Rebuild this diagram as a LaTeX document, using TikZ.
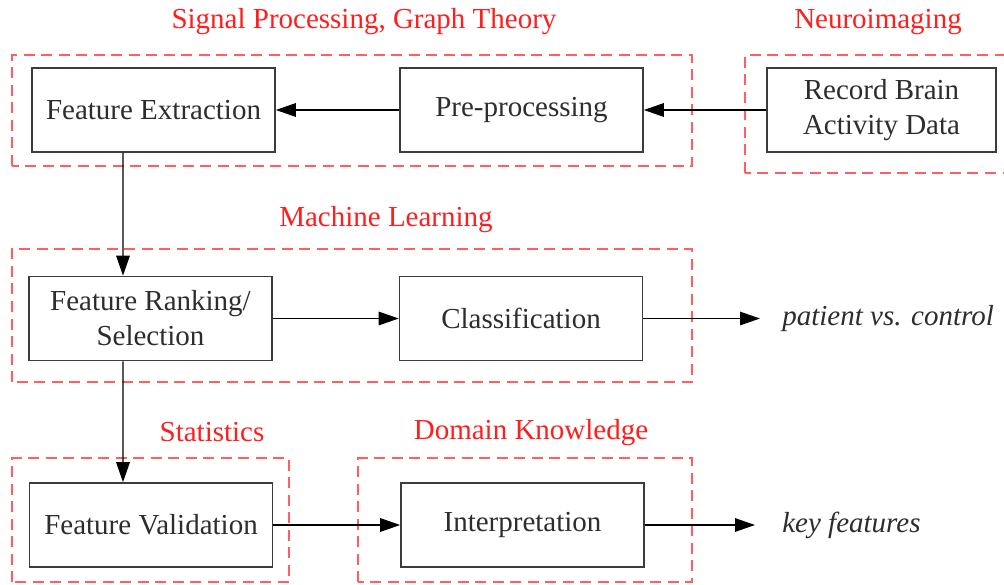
\documentclass[tikz,border=0pt]{standalone}
\usepackage{fontspec}
\setmainfont{Liberation Serif}
\definecolor{framered}{RGB}{255, 95, 95}
\definecolor{labelred}{RGB}{255, 30, 30}
\definecolor{boxgray}{RGB}{60, 60, 60}
\definecolor{textgray}{RGB}{45, 45, 45}
\usepackage{tikz}
\usetikzlibrary{arrows.meta, positioning, calc}

\tikzset{
  stagebox/.style={draw=boxgray, line width=0.9pt, minimum width=4.86cm, minimum height=1.68cm,
    align=center, text=textgray, font=\fontsize{16.5}{20}\selectfont},
  groupframe/.style={draw=framered, line width=1.1pt, dash pattern=on 0.22cm off 0.13cm},
  grouplabel/.style={text=labelred, font=\fontsize{16.5}{20}\selectfont},
  outlabel/.style={anchor=west, text=textgray, font=\fontsize{16.5}{20}\selectfont\itshape},
  flow/.style={draw=black, line width=0.8pt, -{Triangle[length=0.4cm, width=0.27cm]}}
}

\begin{document}
\begin{tikzpicture}
  \useasboundingbox (0, 0) rectangle (20.08, 11.68);

  % Dashed discipline frames
  \draw[groupframe] (0.24, 8.36) rectangle (13.84, 10.58);
  \draw[groupframe] (14.9, 8.22) rectangle (20.3, 10.58);
  \draw[groupframe] (0.24, 4.04) rectangle (13.84, 6.70);
  \draw[groupframe] (0.24, 0.04) rectangle (5.78, 2.52);
  \draw[groupframe] (7.16, 0.04) rectangle (13.84, 2.52);

  \node[grouplabel] (lblsig) at (7.28, 11.24) {Signal Processing, Graph Theory};
  \node[grouplabel] (lblneuro) at (17.56, 11.24) {Neuroimaging};
  \node[grouplabel] (lblml) at (7.72, 7.28) {Machine Learning};
  \node[grouplabel] (lblstat) at (4.24, 3.04) {Statistics};
  \node[grouplabel] (lbldomain) at (10.62, 3.02) {Domain Knowledge};

  % Pipeline stages
  \node[stagebox] (extract) at (3.07, 9.48) {Feature Extraction};
  \node[stagebox] (preproc) at (10.43, 9.48) {Pre-processing};
  \node[stagebox, minimum width=4.58cm] (record) at (17.63, 9.48) {Record Brain\\Activity Data};
  \node[stagebox] (ranking) at (3.01, 5.31) {Feature Ranking/\\Selection};
  \node[stagebox] (classify) at (10.42, 5.31) {Classification};
  \node[stagebox] (validate) at (3.02, 1.18) {Feature Validation};
  \node[stagebox] (interpret) at (10.45, 1.18) {Interpretation};

  % Outcomes
  \node[outlabel, inner xsep=0.44cm] (patient) at (15.2, 5.31) {patient vs. control};
  \node[outlabel, inner xsep=0.54cm] (keyfeat) at (15.1, 1.18) {key features};

  % Connectors
  \draw[flow] (record.west) -- (preproc.east);
  \draw[flow] (preproc.west) -- (extract.east);
  \draw[flow] ([xshift=-0.61cm]extract.south) -- ([xshift=-0.55cm]ranking.north);
  \draw[flow] (ranking.east) -- (classify.west);
  \draw[flow] (classify.east) -- (patient.west);
  \draw[flow] ([xshift=-0.55cm]ranking.south) -- ([xshift=-0.56cm]validate.north);
  \draw[flow] (validate.east) -- (interpret.west);
  \draw[flow] (interpret.east) -- (keyfeat.west);
\end{tikzpicture}
\end{document}
